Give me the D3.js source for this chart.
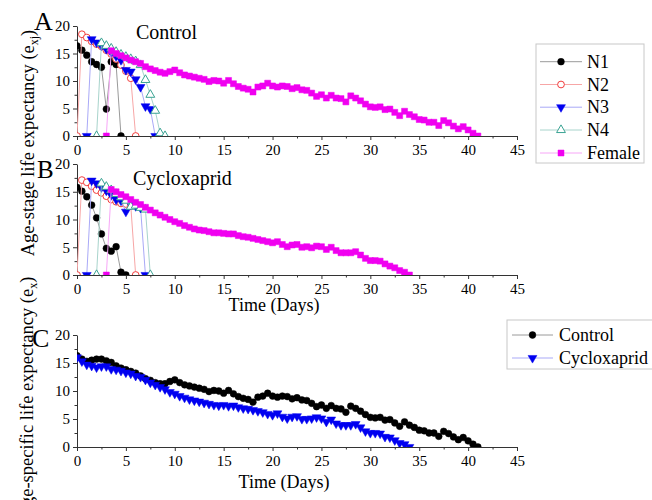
<!DOCTYPE html>
<html>
<head>
<meta charset="utf-8">
<script src="https://cdn.jsdelivr.net/npm/d3@7"></script>
<style>
  body { margin: 0; background: #fff; }
  .tick text { fill: #000; }
  .domain, .tick line { stroke: #333; }
</style>
</head>
<body>
<svg id="viz" width="652" height="500"></svg>
<script>
// Age-stage / age-specific life expectancy

const stageNames = ["N1", "N2", "N3", "N4", "Female"];
const treatNames = ["Control", "Cycloxaprid"];
const xTicks = [0, 5, 10, 15, 20, 25, 30, 35, 40, 45];
const yTicks = [0, 5, 10, 15, 20];
const dayStep = 0.5;

// panel A (control), first day of each stage series
const ctrlStart = [0, 0, 1, 2, 3];
const ctrlN1 = [16.4, 15.6, 14.7, 13.5, 13.0, 12.5, 4.9, 13.5, 13.0, 0];
const ctrlN2 = [0, 18.5, 17.9, 17.2, 16.7, 16.3, 15.6, 14.9, 14.0, 12.9, 11.8, 10.5, 0];
const ctrlN3 = [0, 17.6, 17.0, 16.4, 15.8, 15.2, 14.5, 13.8, 12.0, 11.7, 10.3, 8.9, 5.4, 4.9, 0];
const ctrlN4 = [0, 16.9, 16.4, 15.9, 15.3, 14.8, 14.4, 14.0, 13.6, 12.9, 10.2, 7.5, 4.6, 0.5, 0];
const ctrlFemale = [0, 15.5, 15.0, 14.6, 14.2, 13.8, 13.5, 13.2, 12.6, 12.2, 11.9, 11.6, 11.4, 11.7, 12.0,
  11.5, 11.1, 10.9, 10.7, 10.5, 10.3, 9.9, 10.1, 10.0, 9.6, 10.1, 9.5, 9.0, 8.7, 8.5, 8.0, 8.9, 9.1, 9.6, 9.1,
  8.9, 9.1, 9.0, 8.6, 8.8, 8.4, 8.3, 7.8, 7.2, 7.5, 6.9, 7.4, 6.9, 6.8, 6.2, 7.3, 6.9, 6.4, 5.8, 5.3,
  5.2, 5.3, 4.8, 4.9, 4.3, 3.7, 4.5, 3.9, 3.5, 3.0, 2.9, 2.5, 2.5, 1.9, 2.8, 2.4, 1.8, 1.3, 1.7, 1.1,
  0.5, 0];

// panel B (cycloxaprid)
const cyclStart = [0, 0, 1, 2, 3];
const cyclN1 = [15.8, 15.1, 14.1, 12.6, 10.3, 7.4, 4.8, 4.3, 5.1, 0.5, 0];
const cyclN2 = [0, 17.1, 16.7, 16.0, 15.3, 14.8, 14.2, 13.6, 13.2, 12.9, 12.8, 12.5, 0];
const cyclN3 = [0, 17.0, 16.5, 15.8, 15.2, 14.4, 13.6, 13.4, 11.4, 12.7, 12.4, 12.1, 0];
const cyclN4 = [0, 16.5, 15.9, 15.3, 14.6, 14.0, 13.4, 12.3, 12.5, 12.1, 11.8, 0];
const cyclFemale = [0, 15.4, 15.0, 14.5, 14.1, 13.6, 13.1, 12.7, 12.2, 11.7, 11.2, 10.8, 10.4, 10.0, 9.6,
  9.3, 8.9, 8.6, 8.3, 8.1, 8.0, 7.8, 7.6, 7.6, 7.5, 7.4, 7.4, 7.1, 6.9, 6.8, 6.6, 6.4, 6.2, 6.0, 5.8,
  6.0, 5.5, 5.1, 5.4, 5.5, 5.0, 5.1, 4.9, 5.2, 5.1, 4.6, 5.0, 4.4, 4.0, 4.0, 4.0, 4.2, 3.6, 3.0, 2.6,
  2.6, 2.5, 2.0, 1.6, 1.3, 0.8, 0.5, 0];

// panel C (e_x), both start at day 0
const exStart = [0, 0];
const exControl = [16.3, 15.7, 15.3, 15.5, 15.7, 15.7, 15.4, 15.1, 14.5, 14.1, 13.8, 13.5, 13.2, 12.7, 12.2,
  11.9, 11.5, 11.3, 11.3, 11.7, 12.0,
  11.5, 11.1, 10.9, 10.7, 10.5, 10.3, 9.9, 10.1, 10.0, 9.6, 10.1, 9.5, 9.0, 8.7, 8.5, 8.0, 8.9, 9.1, 9.6, 9.1,
  8.9, 9.1, 9.0, 8.6, 8.8, 8.4, 8.3, 7.8, 7.2, 7.5, 6.9, 7.4, 6.9, 6.8, 6.2, 7.3, 6.9, 6.4, 5.8, 5.3,
  5.2, 5.3, 4.8, 4.9, 4.3, 3.7, 4.5, 3.9, 3.5, 3.0, 2.9, 2.5, 2.5, 1.9, 2.8, 2.4, 1.8, 1.3, 1.7, 1.1,
  0.5, 0];
const exCyclox = [16.0, 15.3, 14.7, 14.5, 14.2, 14.4, 14.4, 13.9, 13.8, 13.6, 13.3, 13.1, 12.7, 12.5, 12.0,
  11.5, 11.1, 10.7, 10.3, 9.8, 9.5,
  9.1, 8.8, 8.5, 8.3, 8.1, 7.9, 7.7, 7.5, 7.4, 7.5, 7.3, 7.4, 7.1, 6.9, 6.8, 6.6, 6.4, 6.2, 5.9, 5.7,
  6.0, 5.4, 5.1, 5.4, 5.5, 5.0, 5.0, 5.1, 5.3, 5.1, 4.5, 4.9, 4.2, 3.9, 3.9, 3.9, 4.1, 3.5, 2.8, 2.5,
  2.5, 2.4, 1.8, 1.7, 1.2, 0.7, 0.5, 0];

// marker styles per series
const stageStyle = [
  {line: "#9a9a9a", mark: "#000", shape: "circle", open: false},
  {line: "#f7a6a6", mark: "#f23c3c", shape: "circle", open: true},
  {line: "#a9a9f7", mark: "#0000f0", shape: "down", open: false},
  {line: "#a8d4cc", mark: "#3aa393", shape: "up", open: true},
  {line: "#f7a6f7", mark: "#f000f0", shape: "square", open: false}
];
const exStyle = [stageStyle[0], stageStyle[2]];

const serif = "Liberation Serif";

var svg = d3.select("#viz");
var x = d3.scaleLinear().domain([0, 45]).range([77, 517]);

const toPoints = (start, vals) => vals.map((v, i) => ({d: start + i * dayStep, v: v}));

function symbolPath(shape) {
    if (shape === "circle") return d3.symbol(d3.symbolCircle, 36)();
    if (shape === "square") return d3.symbol(d3.symbolSquare, 36)();
    return d3.symbol(d3.symbolTriangle, 34)();
}

function drawMark(g, st, px, py) {
    g.append("path")
        .attr("d", symbolPath(st.shape))
        .attr("transform", `translate(${px},${py})` + (st.shape === "down" ? " rotate(180)" : ""))
        .attr("fill", st.open ? "#fff" : st.mark)
        .attr("stroke", st.mark)
        .attr("stroke-width", st.open ? 1 : 0.5);
}

function drawPanel(id, top, bottom, series, styles) {
    var y = d3.scaleLinear().domain([0, 20]).range([bottom, top]);
    var g = svg.append("g").attr("class", "panel");

    g.append("clipPath").attr("id", "clip" + id)
        .append("rect")
        .attr("x", x(0)).attr("y", y(20))
        .attr("width", x(45) - x(0)).attr("height", y(0) - y(20));

    // minor ticks
    g.append("g")
        .attr("transform", `translate(0,${bottom})`)
        .call(d3.axisBottom(x).tickValues(d3.range(2.5, 45, 5)).tickSize(2.5).tickFormat(""))
        .call(a => a.select(".domain").remove());
    g.append("g")
        .attr("transform", `translate(${x(0)},0)`)
        .call(d3.axisLeft(y).tickValues([2.5, 7.5, 12.5, 17.5]).tickSize(2.5).tickFormat(""))
        .call(a => a.select(".domain").remove());

    g.append("g")
        .attr("transform", `translate(0,${bottom})`)
        .call(d3.axisBottom(x).tickValues(xTicks).tickSize(4).tickSizeOuter(0).tickPadding(4))
        .call(a => a.selectAll("text").attr("font-family", serif).attr("font-size", 15));
    g.append("g")
        .attr("transform", `translate(${x(0)},0)`)
        .call(d3.axisLeft(y).tickValues(yTicks).tickSize(4).tickSizeOuter(0).tickPadding(3))
        .call(a => a.selectAll("text").attr("font-family", serif).attr("font-size", 15));

    var plot = g.append("g").attr("clip-path", `url(#clip${id})`);
    var line = d3.line().x(p => x(p.d)).y(p => y(p.v));

    series.forEach((pts, i) => {
        var st = styles[i];
        var sg = plot.append("g");
        sg.append("path")
            .attr("d", line(pts))
            .attr("fill", "none")
            .attr("stroke", st.line)
            .attr("stroke-width", 1);
        pts.forEach(p => drawMark(sg, st, x(p.d), y(p.v)));
    });
}

drawPanel("A", 26, 136, [
    toPoints(ctrlStart[0], ctrlN1), toPoints(ctrlStart[1], ctrlN2), toPoints(ctrlStart[2], ctrlN3),
    toPoints(ctrlStart[3], ctrlN4), toPoints(ctrlStart[4], ctrlFemale)
], stageStyle);
drawPanel("B", 164, 275, [
    toPoints(cyclStart[0], cyclN1), toPoints(cyclStart[1], cyclN2), toPoints(cyclStart[2], cyclN3),
    toPoints(cyclStart[3], cyclN4), toPoints(cyclStart[4], cyclFemale)
], stageStyle);
drawPanel("C", 335, 447, [
    toPoints(exStart[0], exControl), toPoints(exStart[1], exCyclox)
], exStyle);

// panel letters and titles
var labels = svg.append("g").attr("fill", "#000");
function label(px, py, size, txt) {
    return labels.append("text").attr("x", px).attr("y", py)
        .attr("font-family", serif).attr("font-size", size).text(txt);
}
label(34, 30, 26, "A");
label(37, 178, 25, "B");
label(32, 347, 26, "C");
label(136, 39, 20, treatNames[0]);
label(133, 185, 20, treatNames[1]);
label(274, 311, 18, "Time (Days)").attr("text-anchor", "middle");
label(284, 488, 18, "Time (Days)").attr("text-anchor", "middle");

var yl1 = labels.append("text")
    .attr("transform", "translate(34,143) rotate(-90)")
    .attr("font-family", serif)
    .attr("text-anchor", "middle").attr("font-size", 18.5);
yl1.append("tspan").text("Age-stage life expectancy (e");
yl1.append("tspan").attr("font-size", 12).attr("dy", 4).text("xj");
yl1.append("tspan").attr("dy", -4).text(")");

var yl2 = labels.append("text")
    .attr("transform", "translate(33,398) rotate(-90)")
    .attr("font-family", serif)
    .attr("text-anchor", "middle").attr("font-size", 18.5);
yl2.append("tspan").text("Age-specific life expectancy (e");
yl2.append("tspan").attr("font-size", 12).attr("dy", 4).text("x");
yl2.append("tspan").attr("dy", -4).text(")");

// legends
function drawLegend(bx, by, bw, bh, names, styles, rowY, lx0, lx1, tx) {
    var lg = svg.append("g").attr("class", "legend");
    lg.append("rect")
        .attr("x", bx).attr("y", by).attr("width", bw).attr("height", bh)
        .attr("fill", "#fff").attr("stroke", "#c8c8c8");
    names.forEach((n, i) => {
        var yy = rowY[i];
        lg.append("line")
            .attr("x1", lx0).attr("x2", lx1).attr("y1", yy).attr("y2", yy)
            .attr("stroke", styles[i].line);
        drawMark(lg, styles[i], (lx0 + lx1) / 2, yy);
        lg.append("text").attr("x", tx).attr("y", yy + 6)
            .attr("font-family", serif).attr("font-size", 18).text(n);
    });
}

drawLegend(536, 44, 108, 119, stageNames, stageStyle,
    [61.7, 84.5, 107.2, 130, 153], 540, 582, 587);
drawLegend(507, 320, 150, 49, treatNames, exStyle,
    [335, 358], 512, 553, 559);
</script>
</body>
</html>
